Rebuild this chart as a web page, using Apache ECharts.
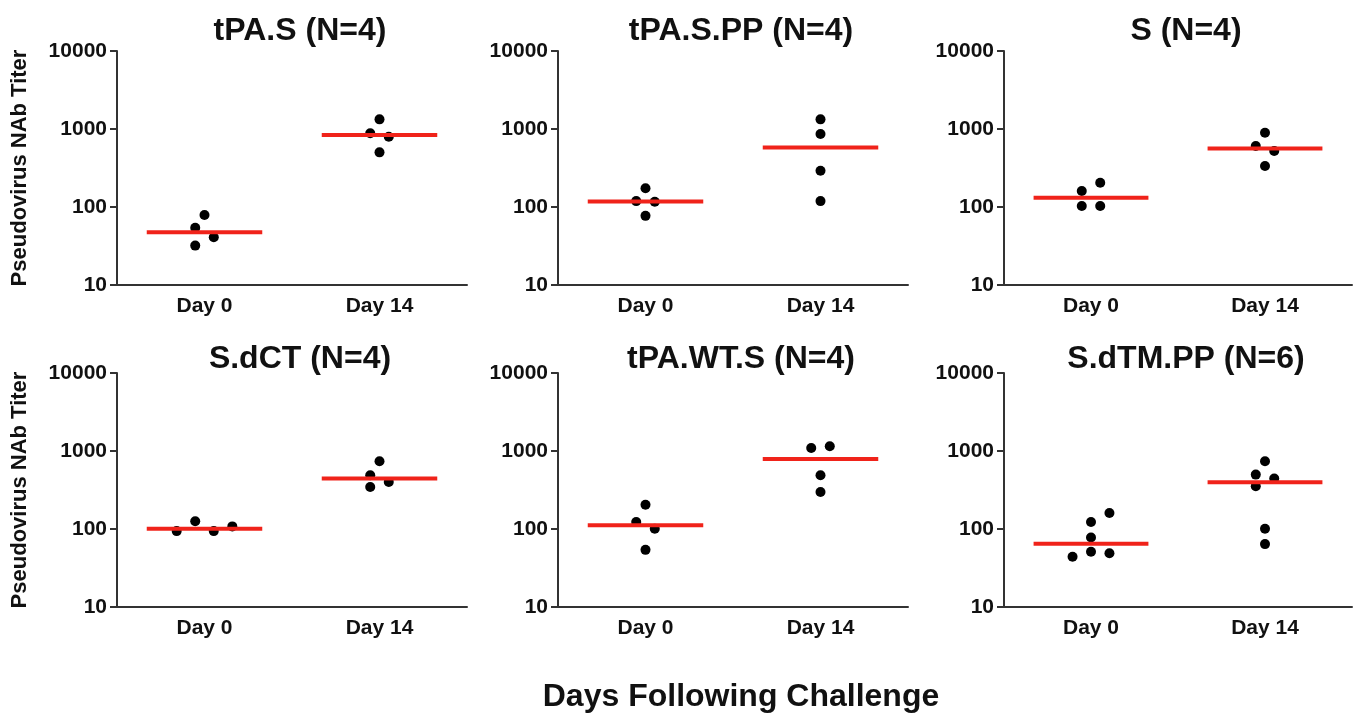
<!DOCTYPE html>
<html>
<head>
<meta charset="utf-8">
<title>Pseudovirus NAb Titer</title>
<script src="https://cdn.jsdelivr.net/npm/echarts@6/dist/echarts.min.js"></script>
<style>
  html, body { margin: 0; padding: 0; background: #fff; }
  #chart { width: 1358px; height: 715px; }
</style>
</head>
<body>
<div id="chart"></div>
<script>
// Categories and tick labels
const dayCategories = ['Day 0', 'Day 14'];
const yTicks = [10, 100, 1000, 10000];
const panelTitles = ['tPA.S (N=4)', 'tPA.S.PP (N=4)', 'S (N=4)', 'S.dCT (N=4)', 'tPA.WT.S (N=4)', 'S.dTM.PP (N=6)'];

// Titers per animal (Day 0 / Day 14) for each vaccine group
const tpaS_day0 = [79, 54, 41, 32];
const tpaS_day14 = [1330, 880, 796, 502];
const tpaSPP_day0 = [174, 119, 117, 77];
const tpaSPP_day14 = [1330, 863, 292, 119];
const s_day0 = [205, 160, 103, 103];
const s_day14 = [897, 605, 522, 335];
const sdCT_day0 = [126, 94, 94, 108];
const sdCT_day14 = [738, 488, 401, 345];
const tpaWTS_day0 = [205, 123, 101, 54];
const tpaWTS_day14 = [1092, 1148, 488, 298];
const sdTMPP_day0 = [160, 123, 78, 44, 51, 49];
const sdTMPP_day14 = [738, 498, 443, 353, 101, 64];

// Horizontal dodge slot of each dot (scatter-dot layout), same order as the values
const tpaS_slot0 = [0, -1, 1, -1];
const tpaS_slot14 = [0, -1, 1, 0];
const tpaSPP_slot0 = [0, -1, 1, 0];
const tpaSPP_slot14 = [0, 0, 0, 0];
const s_slot0 = [1, -1, -1, 1];
const s_slot14 = [0, -1, 1, 0];
const sdCT_slot0 = [-1, -3, 1, 3];
const sdCT_slot14 = [0, -1, 1, -1];
const tpaWTS_slot0 = [0, -1, 1, 0];
const tpaWTS_slot14 = [-1, 1, 0, 0];
const sdTMPP_slot0 = [2, 0, 0, -2, 0, 2];
const sdTMPP_slot14 = [0, -1, 1, -1, 0, 0];

const groups = [
  { day0: tpaS_day0, day14: tpaS_day14, slot0: tpaS_slot0, slot14: tpaS_slot14 },
  { day0: tpaSPP_day0, day14: tpaSPP_day14, slot0: tpaSPP_slot0, slot14: tpaSPP_slot14 },
  { day0: s_day0, day14: s_day14, slot0: s_slot0, slot14: s_slot14 },
  { day0: sdCT_day0, day14: sdCT_day14, slot0: sdCT_slot0, slot14: sdCT_slot14 },
  { day0: tpaWTS_day0, day14: tpaWTS_day14, slot0: tpaWTS_slot0, slot14: tpaWTS_slot14 },
  { day0: sdTMPP_day0, day14: sdTMPP_day14, slot0: sdTMPP_slot0, slot14: sdTMPP_slot14 }
];

const FONT = '"Liberation Sans", Arial, Helvetica, sans-serif';
const SLOT_STEP = 0.053;   // dodge step in category units
const MEDIAN_HALF = 0.33;  // half length of the median bar in category units

const colLeft = [117, 558, 1004];
const colWidth = [350, 350, 348];
const rowTop = [51, 373];
const rowHeight = 234;

function median(arr) {
  const s = arr.slice().sort((a, b) => a - b);
  const m = s.length >> 1;
  return s.length % 2 ? s[m] : (s[m - 1] + s[m]) / 2;
}

const grid = [], xAxis = [], yAxis = [], series = [], graphic = [];

groups.forEach((g, i) => {
  const col = i % 3, row = Math.floor(i / 3);
  grid.push({ left: colLeft[col], top: rowTop[row], width: colWidth[col], height: rowHeight });

  // hidden numeric axis used to place dots and medians
  xAxis.push({ type: 'value', gridIndex: i, min: -0.5, max: 1.5, show: false, position: 'bottom' });
  // visible category axis carrying the day labels
  xAxis.push({
    type: 'category', gridIndex: i, data: dayCategories, boundaryGap: true, position: 'bottom',
    axisLine: { onZero: false, lineStyle: { color: '#333', width: 2 } },
    axisTick: { alignWithLabel: true, length: 5, lineStyle: { color: '#333', width: 2 } },
    axisLabel: { color: '#111', fontFamily: FONT, fontWeight: 'bold', fontSize: 21, margin: 11 },
    splitLine: { show: false }
  });

  yAxis.push({
    type: 'log', logBase: 10, gridIndex: i, min: yTicks[0], max: yTicks[yTicks.length - 1],
    position: 'left',
    name: col === 0 ? 'Pseudovirus NAb Titer' : '',
    nameLocation: 'middle', nameRotate: 90, nameGap: 86,
    nameTextStyle: { color: '#111', fontFamily: FONT, fontWeight: 'bold', fontSize: 22 },
    axisLine: { show: true, onZero: false, lineStyle: { color: '#333', width: 2 } },
    axisTick: { show: true, length: 7, lineStyle: { color: '#333', width: 2 } },
    axisLabel: {
      color: '#111', fontFamily: FONT, fontWeight: 'bold', fontSize: 21, margin: 10,
      formatter: v => String(Math.round(v))
    },
    splitLine: { show: false },
    minorTick: { show: false }
  });

  const pts = [];
  g.day0.forEach((v, k) => pts.push([0 + g.slot0[k] * SLOT_STEP, v]));
  g.day14.forEach((v, k) => pts.push([1 + g.slot14[k] * SLOT_STEP, v]));

  series.push({
    type: 'scatter', xAxisIndex: 2 * i, yAxisIndex: i,
    symbol: 'circle', symbolSize: 10,
    itemStyle: { color: '#000', opacity: 1 },
    data: pts, z: 2, silent: true
  });

  series.push({
    type: 'custom', xAxisIndex: 2 * i, yAxisIndex: i, z: 3, silent: true,
    data: [[0, median(g.day0)], [1, median(g.day14)]],
    renderItem: (params, api) => {
      const x = api.value(0), y = api.value(1);
      const a = api.coord([x - MEDIAN_HALF, y]);
      const b = api.coord([x + MEDIAN_HALF, y]);
      return {
        type: 'line',
        shape: { x1: a[0], y1: a[1], x2: b[0], y2: b[1] },
        style: { stroke: '#f0231a', lineWidth: 4 }
      };
    }
  });

  graphic.push({
    type: 'text',
    x: colLeft[col] + colWidth[col] / 2 + 8,
    y: rowTop[row] - (row === 0 ? 20 : 14),
    style: {
      text: panelTitles[i], fill: '#111', font: 'bold 32px ' + FONT,
      textAlign: 'center', textVerticalAlign: 'middle'
    }
  });
});

graphic.push({
  type: 'text', x: 741, y: 697,
  style: {
    text: 'Days Following Challenge', fill: '#111', font: 'bold 32px ' + FONT,
    textAlign: 'center', textVerticalAlign: 'middle'
  }
});

const chart = echarts.init(document.getElementById('chart'), null, { renderer: 'canvas' });
chart.setOption({
  backgroundColor: '#fff',
  animation: false,
  grid, xAxis, yAxis, series, graphic
});
</script>
</body>
</html>
